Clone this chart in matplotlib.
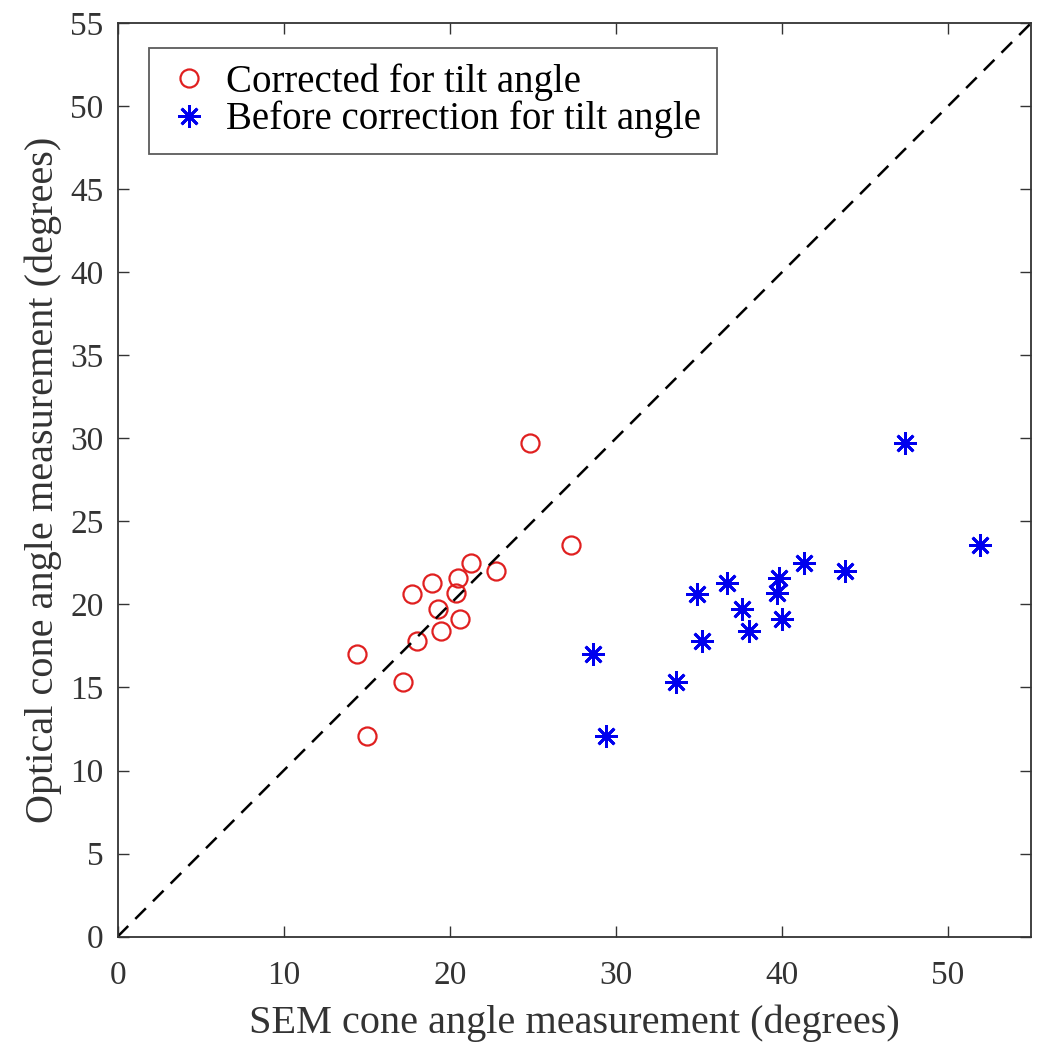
import matplotlib
matplotlib.use("Agg")
import matplotlib.pyplot as plt

# SEM vs optical cone angle (degrees)
sem_corrected = [24.8, 27.3, 21.3, 22.8, 20.5, 18.9, 17.7, 20.4, 19.3, 20.6, 19.5, 18.0, 14.4, 17.2, 15.0]
sem_before = [47.4, 51.9, 41.3, 43.8, 39.8, 36.7, 34.9, 39.7, 37.6, 40.0, 38.0, 35.2, 28.6, 33.6, 29.4]
optical = [29.7, 23.6, 22.5, 22.0, 21.6, 21.3, 20.6, 20.7, 19.7, 19.1, 18.4, 17.8, 17.0, 15.3, 12.1]
diag = [0, 55]
ticks = list(range(0, 60, 5))
xticks = list(range(0, 60, 10))

plt.rcParams['font.family'] = ['Liberation Serif', 'DejaVu Serif']
plt.rcParams['font.size'] = 24

fig = plt.figure(figsize=(10.5, 10.5), dpi=100)
ax = fig.add_axes([0.112, 0.108, 0.870, 0.870])

ax.plot(sem_corrected, optical, linestyle='none', marker='o', markersize=13,
        markerfacecolor='none', markeredgecolor='#e02020', markeredgewidth=1.6,
        label='Corrected for tilt angle')
ax.plot(sem_before, optical, linestyle='none', marker=(8, 2, 0), markersize=16,
        color='#0000ee', markeredgewidth=2.0, label='Before correction for tilt angle')
ax.plot(diag, diag, color='black', linestyle=(0, (6, 4)), linewidth=1.8)

ax.set_xlim(0, 55)
ax.set_ylim(0, 55)
ax.set_xticks(xticks)
ax.set_yticks(ticks)
ax.tick_params(direction='in', top=True, right=True, length=8, width=1, labelsize=24,
               colors='#333333')
ax.tick_params(axis='y', pad=10)
ax.tick_params(axis='x', pad=17)
for s in ax.spines.values():
    s.set_color('#333333')
    s.set_linewidth(1.3)

ax.set_xlabel('SEM cone angle measurement (degrees)', fontsize=29, color='#333333', labelpad=10)
ax.set_ylabel('Optical cone angle measurement (degrees)', fontsize=29, color='#333333', labelpad=6)

leg = ax.legend(loc='upper left', bbox_to_anchor=(0.034, 0.973), borderaxespad=0, fontsize=28,
                frameon=True, fancybox=False, edgecolor='#333333', handletextpad=0.3,
                borderpad=0.4, labelspacing=0.0, handlelength=1.3)
leg.get_frame().set_linewidth(1.3)

fig.savefig('out.png', dpi=100)
